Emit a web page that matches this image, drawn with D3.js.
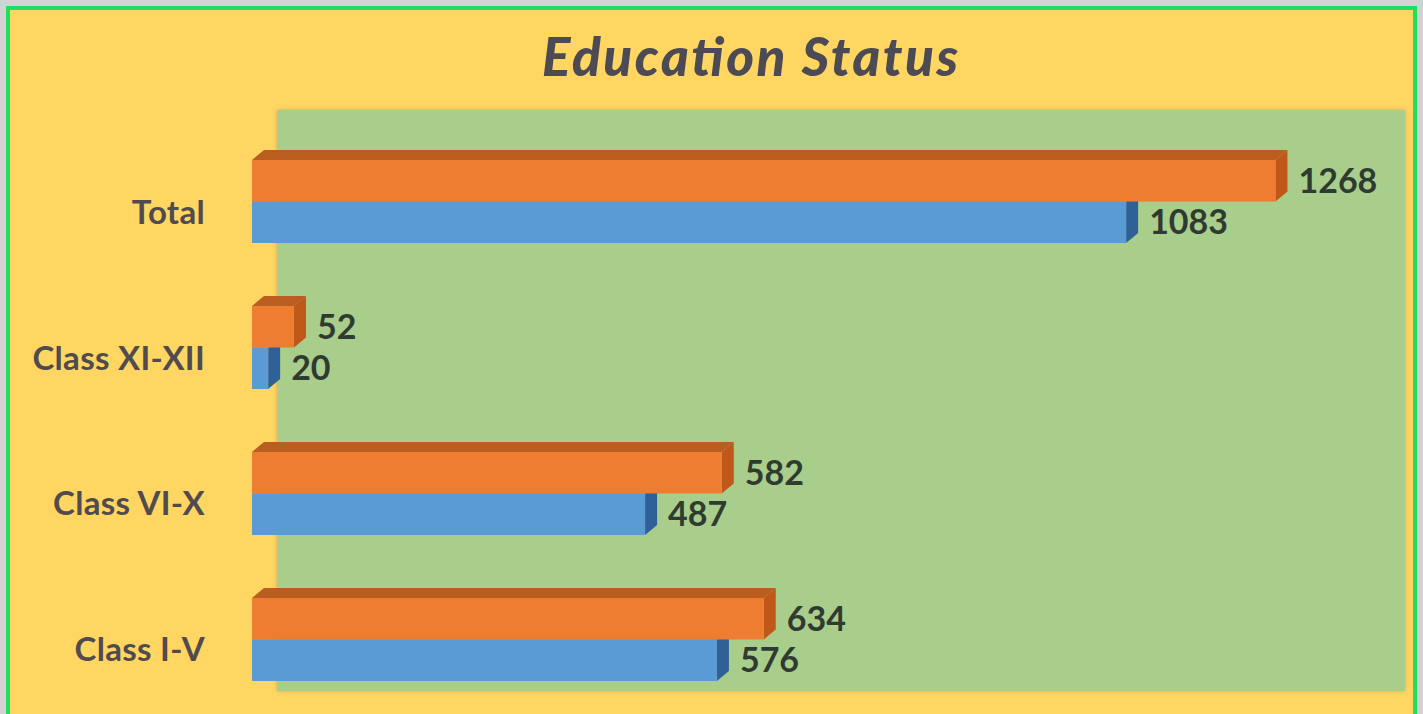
<!DOCTYPE html>
<html><head><meta charset="utf-8">
<script src="https://cdn.jsdelivr.net/npm/d3@7/dist/d3.min.js"></script>
<style>html,body{margin:0;padding:0;background:#d6d0d2;overflow:hidden}</style>
</head><body>
<svg id="c" width="1423" height="714"></svg>
<script>
const categories = ["Total", "Class XI-XII", "Class VI-X", "Class I-V"];
const seriesNames = ["Series 2", "Series 1"]; // orange drawn above blue within each group
const series2 = [1268, 52, 582, 634];   // orange
const series1 = [1083, 20, 487, 576];   // blue
const title = "Education Status";

const svg = d3.select("#c");
const W = 1423, H = 714;

svg.append("rect").attr("x", 0).attr("y", 0).attr("width", W).attr("height", H).attr("fill", "#d6d0d2");
svg.append("rect").attr("x", 8).attr("y", 8).attr("width", 1407).attr("height", 720)
  .attr("fill", "#ffd662").attr("stroke", "#1ee05a").attr("stroke-width", 4);

// plot area back wall
const defs = svg.append("defs");
const f = defs.append("filter").attr("id", "sh").attr("x", "-5%").attr("y", "-5%").attr("width", "110%").attr("height", "110%");
f.append("feDropShadow").attr("dx", 0).attr("dy", 0).attr("stdDeviation", 2).attr("flood-color", "#9a8a40").attr("flood-opacity", 0.5);
svg.append("rect").attr("x", 277).attr("y", 110).attr("width", 1128).attr("height", 581)
  .attr("fill", "#a9cd8a").attr("filter", "url(#sh)");

// title
svg.append("text").attr("x", 542).attr("y", 76)
  .attr("font-family", "Lato, 'Open Sans', sans-serif").attr("font-weight", "900").attr("font-style", "italic")
  .attr("font-size", 53).attr("fill", "#4b4a55")
  .attr("textLength", 416).attr("lengthAdjust", "spacing").text(title);

const x = d3.scaleLinear().domain([0, 1400]).range([252, 1382]);
const y = d3.scaleBand().domain(categories).range([128.5, 712.5]).paddingInner(0.4315).paddingOuter(0.2158);
const ys = d3.scaleBand().domain(seriesNames).range([0, y.bandwidth()]);

const dx = 12, dy = 10;
const colors = {
  "Series 2": {front: "#ed7d31", top: "#b95d20", side: "#c0581a"},
  "Series 1": {front: "#5b9bd5", top: "#3f77ad", side: "#2f6198"}
};

const rows = [];
categories.forEach((c, i) => {
  rows.push({cat: c, s: "Series 1", v: series1[i]});
  rows.push({cat: c, s: "Series 2", v: series2[i]});
});

const g = svg.append("g");
rows.forEach(d => {
  const x0 = x(0), x1 = x(d.v);
  const y0 = y(d.cat) + ys(d.s), y1 = y0 + ys.bandwidth();
  const col = colors[d.s];
  g.append("polygon").attr("points", [[x0, y0], [x0 + dx, y0 - dy], [x1 + dx, y0 - dy], [x1, y0]].join(" ")).attr("fill", col.top);
  g.append("polygon").attr("points", [[x1, y0], [x1 + dx, y0 - dy], [x1 + dx, y1 - dy], [x1, y1]].join(" ")).attr("fill", col.side);
  g.append("rect").attr("x", x0).attr("y", y0).attr("width", x1 - x0).attr("height", y1 - y0).attr("fill", col.front);
});

// value labels
rows.forEach(d => {
  const y0 = y(d.cat) + ys(d.s);
  svg.append("text").attr("x", x(d.v) + 23).attr("y", y0 + ys.bandwidth() / 2 + 12)
    .attr("font-family", "Lato, 'Open Sans', sans-serif").attr("font-weight", "bold")
    .attr("font-size", 34).attr("fill", "#2f3b31").text(d.v);
});

// category labels
categories.forEach(c => {
  svg.append("text").attr("x", 205).attr("y", y(c) + y.bandwidth() / 2 + 22)
    .attr("text-anchor", "end")
    .attr("font-family", "Lato, 'Open Sans', sans-serif").attr("font-weight", "bold")
    .attr("font-size", 33).attr("letter-spacing", 0.3).attr("fill", "#514b4f").text(c);
});
</script>
</body></html>
